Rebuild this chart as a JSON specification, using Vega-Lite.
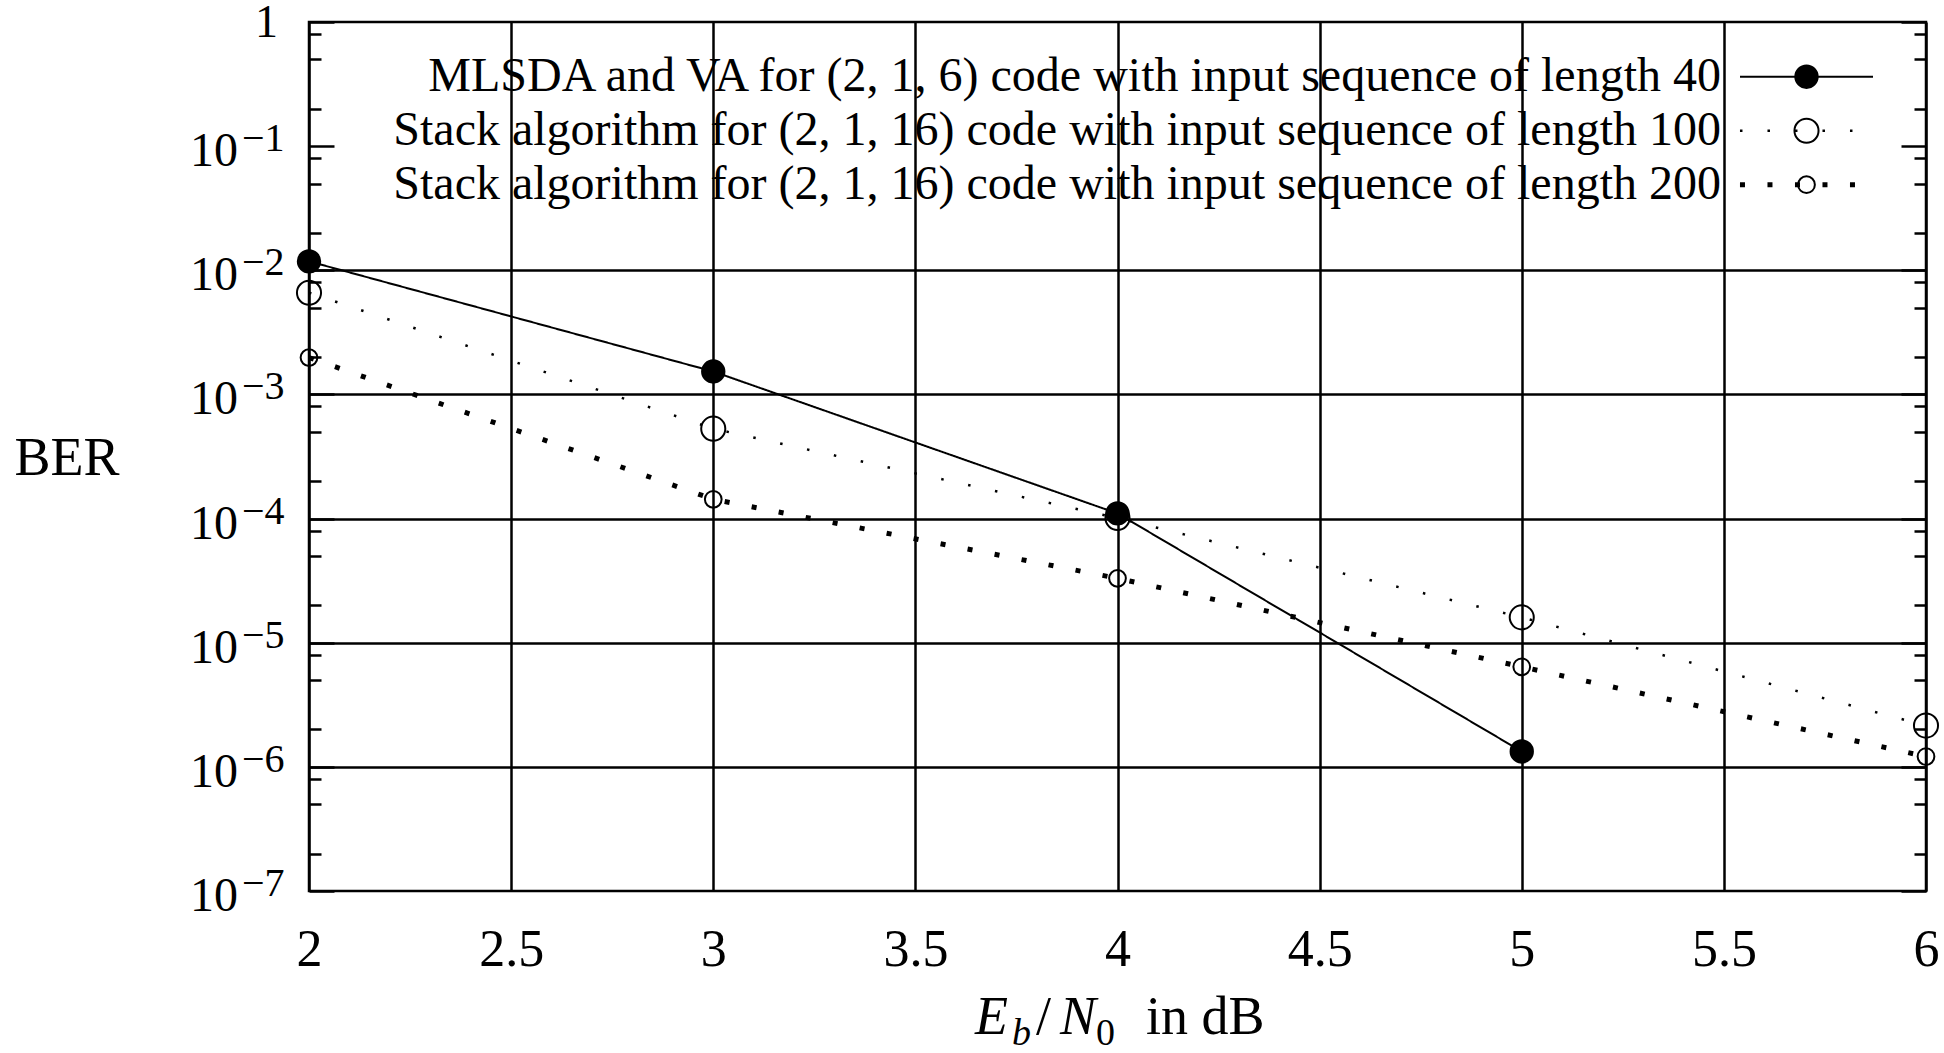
{
  "$schema": "https://vega.github.io/schema/vega-lite/v6.json",
  "autosize": {"type": "none"},
  "width": 1617,
  "height": 869,
  "padding": {"left": 309, "top": 22, "right": 18, "bottom": 162},
  "background": "white",
  "config": {
    "font": "Liberation Serif",
    "view": {"stroke": "black", "strokeWidth": 2.5}
  },
  "datasets": {
    "ber": [
      {"x": 2, "ber": 0.0118, "series": "MLSDA and VA for (2, 1, 6) code with input sequence of length 40", "key": "a"},
      {"x": 3, "ber": 0.00153, "series": "MLSDA and VA for (2, 1, 6) code with input sequence of length 40", "key": "a"},
      {"x": 4, "ber": 0.00011, "series": "MLSDA and VA for (2, 1, 6) code with input sequence of length 40", "key": "a"},
      {"x": 5, "ber": 0.00000133, "series": "MLSDA and VA for (2, 1, 6) code with input sequence of length 40", "key": "a"},
      {"x": 2, "ber": 0.0066, "series": "Stack algorithm for (2, 1, 16) code with input sequence of length 100", "key": "b"},
      {"x": 3, "ber": 0.00053, "series": "Stack algorithm for (2, 1, 16) code with input sequence of length 100", "key": "b"},
      {"x": 4, "ber": 0.000101, "series": "Stack algorithm for (2, 1, 16) code with input sequence of length 100", "key": "b"},
      {"x": 5, "ber": 0.000016, "series": "Stack algorithm for (2, 1, 16) code with input sequence of length 100", "key": "b"},
      {"x": 6, "ber": 0.00000215, "series": "Stack algorithm for (2, 1, 16) code with input sequence of length 100", "key": "b"},
      {"x": 2, "ber": 0.00198, "series": "Stack algorithm for (2, 1, 16) code with input sequence of length 200", "key": "c"},
      {"x": 3, "ber": 0.000143, "series": "Stack algorithm for (2, 1, 16) code with input sequence of length 200", "key": "c"},
      {"x": 4, "ber": 0.000033, "series": "Stack algorithm for (2, 1, 16) code with input sequence of length 200", "key": "c"},
      {"x": 5, "ber": 0.0000064, "series": "Stack algorithm for (2, 1, 16) code with input sequence of length 200", "key": "c"},
      {"x": 6, "ber": 0.00000121, "series": "Stack algorithm for (2, 1, 16) code with input sequence of length 200", "key": "c"}
    ],
    "ylab": [
      {"val": 1, "base": "1", "exp": ""},
      {"val": 0.1, "base": "10", "exp": "−1"},
      {"val": 0.01, "base": "10", "exp": "−2"},
      {"val": 0.001, "base": "10", "exp": "−3"},
      {"val": 0.0001, "base": "10", "exp": "−4"},
      {"val": 0.00001, "base": "10", "exp": "−5"},
      {"val": 0.000001, "base": "10", "exp": "−6"},
      {"val": 0.0000001, "base": "10", "exp": "−7"}
    ]
  },
  "resolve": {"axis": {"y": "independent"}},
  "layer": [
    {
      "data": {"name": "ber"},
      "mark": {"type": "line", "color": "black", "strokeCap": "butt"},
      "encoding": {
        "x": {
          "field": "x", "type": "quantitative",
          "scale": {"domain": [2, 6], "nice": false, "zero": false},
          "axis": {
            "orient": "bottom",
            "values": [2, 2.5, 3, 3.5, 4, 4.5, 5, 5.5, 6],
            "grid": true, "gridColor": "black", "gridWidth": 2.5, "gridOpacity": 1,
            "ticks": false, "tickSize": 0, "domain": false,
            "labelFont": "Liberation Serif", "labelFontSize": 52, "labelColor": "black",
            "labelPadding": 33, "labelFlush": false, "labelOverlap": false, "labelBound": false,
            "format": "~g", "title": null
          }
        },
        "y": {
          "field": "ber", "type": "quantitative",
          "scale": {"type": "log", "domain": [0.0000001, 1], "nice": false},
          "axis": {
            "orient": "left",
            "values": [1, 0.8, 0.5, 0.2, 0.1, 0.08, 0.05, 0.02, 0.01, 0.008, 0.005, 0.002, 0.001, 0.0008, 0.0005, 0.0002, 0.0001, 0.00008, 0.00005, 0.00002, 0.00001, 0.000008, 0.000005, 0.000002, 0.000001, 0.0000008, 0.0000005, 0.0000002, 0.0000001],
            "grid": true, "gridColor": "black", "gridWidth": 2.5,
            "gridOpacity": {"condition": {"test": "datum.value > 0.0000009 && datum.value < 0.011 && abs(log(datum.value)/LN10 - round(log(datum.value)/LN10)) < 0.001", "value": 1}, "value": 0},
            "ticks": true, "tickColor": "black", "tickWidth": 2.5,
            "tickSize": {"condition": {"test": "abs(log(datum.value)/LN10 - round(log(datum.value)/LN10)) < 0.001", "value": -25}, "value": -12},
            "labels": false, "domain": false,
            "title": "BER", "titleAngle": 0, "titleX": -242.5, "titleY": 452,
            "titleAlign": "center", "titleBaseline": "alphabetic",
            "titleFont": "Liberation Serif", "titleFontSize": 54, "titleFontWeight": "normal", "titleColor": "black"
          }
        },
        "strokeDash": {
          "field": "series", "type": "nominal",
          "scale": {"range": [[1, 0], [2.5, 25], [5, 22.5]]},
          "legend": {
            "orient": "none", "legendX": 1473.5, "legendY": 30.7, "title": null, "padding": 0,
            "symbolType": "M-5,0H5", "symbolSize": 708, "symbolStrokeColor": "black",
            "labelFont": "Liberation Serif", "labelFontSize": 48, "labelColor": "black",
            "labelAlign": "right", "labelOffset": -109.5, "labelLimit": 0, "rowPadding": 6
          }
        },
        "strokeWidth": {
          "field": "series", "type": "nominal",
          "scale": {"type": "ordinal", "range": [2, 2.5, 5]},
          "legend": {
            "orient": "none", "legendX": 1473.5, "legendY": 30.7, "title": null, "padding": 0,
            "symbolType": "M-5,0H5", "symbolSize": 708, "symbolStrokeColor": "black",
            "labelFont": "Liberation Serif", "labelFontSize": 48, "labelColor": "black",
            "labelAlign": "right", "labelOffset": -109.5, "labelLimit": 0, "rowPadding": 6
          }
        }
      }
    },
    {
      "data": {"name": "ber"},
      "mark": {"type": "point", "shape": "circle", "filled": true, "strokeWidth": 2, "opacity": 1},
      "encoding": {
        "x": {"field": "x", "type": "quantitative", "scale": {"domain": [2, 6], "nice": false, "zero": false}},
        "y": {
          "field": "ber", "type": "quantitative",
          "scale": {"type": "log", "domain": [0.0000001, 1], "nice": false},
          "axis": {
            "orient": "right",
            "values": [1, 0.8, 0.5, 0.2, 0.1, 0.08, 0.05, 0.02, 0.01, 0.008, 0.005, 0.002, 0.001, 0.0008, 0.0005, 0.0002, 0.0001, 0.00008, 0.00005, 0.00002, 0.00001, 0.000008, 0.000005, 0.000002, 0.000001, 0.0000008, 0.0000005, 0.0000002, 0.0000001],
            "grid": false,
            "ticks": true, "tickColor": "black", "tickWidth": 2.5,
            "tickSize": {"condition": {"test": "abs(log(datum.value)/LN10 - round(log(datum.value)/LN10)) < 0.001", "value": -25}, "value": -12},
            "labels": false, "domain": false, "title": null
          }
        },
        "fill": {
          "field": "key", "type": "nominal",
          "scale": {"range": ["black", "transparent", "transparent"]},
          "legend": {
            "orient": "none", "legendX": 1473.5, "legendY": 30.7, "title": null, "padding": 0,
            "symbolType": "circle", "symbolStrokeWidth": 2,
            "labelFontSize": 48, "labelOpacity": 0, "rowPadding": 6
          }
        },
        "stroke": {
          "field": "key", "type": "nominal",
          "scale": {"range": ["black", "black", "black"]},
          "legend": {
            "orient": "none", "legendX": 1473.5, "legendY": 30.7, "title": null, "padding": 0,
            "symbolType": "circle", "symbolStrokeWidth": 2,
            "labelFontSize": 48, "labelOpacity": 0, "rowPadding": 6
          }
        },
        "size": {
          "field": "key", "type": "nominal",
          "scale": {"type": "ordinal", "range": [500, 580, 280]},
          "legend": {
            "orient": "none", "legendX": 1473.5, "legendY": 30.7, "title": null, "padding": 0,
            "symbolType": "circle", "symbolStrokeWidth": 2,
            "labelFontSize": 48, "labelOpacity": 0, "rowPadding": 6
          }
        }
      }
    },
    {
      "data": {"name": "ylab"},
      "transform": [{"filter": "datum.val < 0.5"}],
      "mark": {"type": "text", "align": "right", "baseline": "alphabetic", "dx": -71, "dy": 20, "fontSize": 48, "font": "Liberation Serif", "color": "black"},
      "encoding": {
        "x": {"datum": 2, "type": "quantitative", "scale": {"domain": [2, 6], "nice": false, "zero": false}},
        "y": {"field": "val", "type": "quantitative", "scale": {"type": "log", "domain": [0.0000001, 1], "nice": false}, "axis": null},
        "text": {"field": "base"}
      }
    },
    {
      "data": {"name": "ylab"},
      "transform": [{"filter": "datum.val < 0.5"}],
      "mark": {"type": "text", "align": "left", "baseline": "alphabetic", "dx": -67, "dy": 5, "fontSize": 40, "font": "Liberation Serif", "color": "black"},
      "encoding": {
        "x": {"datum": 2, "type": "quantitative", "scale": {"domain": [2, 6], "nice": false, "zero": false}},
        "y": {"field": "val", "type": "quantitative", "scale": {"type": "log", "domain": [0.0000001, 1], "nice": false}, "axis": null},
        "text": {"field": "exp"}
      }
    },
    {
      "data": {"name": "ylab"},
      "transform": [{"filter": "datum.val > 0.5"}],
      "mark": {"type": "text", "align": "right", "baseline": "alphabetic", "dx": -31, "dy": 15, "fontSize": 46, "font": "Liberation Serif", "color": "black"},
      "encoding": {
        "x": {"datum": 2, "type": "quantitative", "scale": {"domain": [2, 6], "nice": false, "zero": false}},
        "y": {"field": "val", "type": "quantitative", "scale": {"type": "log", "domain": [0.0000001, 1], "nice": false}, "axis": null},
        "text": {"field": "base"}
      }
    },
    {
      "data": {"values": [{}]},
      "mark": {"type": "text", "text": "E", "fontStyle": "italic", "fontSize": 54, "font": "Liberation Serif", "align": "left", "baseline": "alphabetic", "dx": -142.5, "dy": 143, "color": "black"},
      "encoding": {
        "x": {"datum": 4, "type": "quantitative", "scale": {"domain": [2, 6], "nice": false, "zero": false}},
        "y": {"datum": 0.0000001, "type": "quantitative", "scale": {"type": "log", "domain": [0.0000001, 1], "nice": false}, "axis": null}
      }
    },
    {
      "data": {"values": [{}]},
      "mark": {"type": "text", "text": "b", "fontStyle": "italic", "fontSize": 38, "font": "Liberation Serif", "align": "left", "baseline": "alphabetic", "dx": -105.5, "dy": 154, "color": "black"},
      "encoding": {
        "x": {"datum": 4, "type": "quantitative", "scale": {"domain": [2, 6], "nice": false, "zero": false}},
        "y": {"datum": 0.0000001, "type": "quantitative", "scale": {"type": "log", "domain": [0.0000001, 1], "nice": false}, "axis": null}
      }
    },
    {
      "data": {"values": [{}]},
      "mark": {"type": "text", "text": "/", "fontSize": 54, "font": "Liberation Serif", "align": "left", "baseline": "alphabetic", "dx": -81.5, "dy": 143, "color": "black"},
      "encoding": {
        "x": {"datum": 4, "type": "quantitative", "scale": {"domain": [2, 6], "nice": false, "zero": false}},
        "y": {"datum": 0.0000001, "type": "quantitative", "scale": {"type": "log", "domain": [0.0000001, 1], "nice": false}, "axis": null}
      }
    },
    {
      "data": {"values": [{}]},
      "mark": {"type": "text", "text": "N", "fontStyle": "italic", "fontSize": 54, "font": "Liberation Serif", "align": "left", "baseline": "alphabetic", "dx": -57.5, "dy": 143, "color": "black"},
      "encoding": {
        "x": {"datum": 4, "type": "quantitative", "scale": {"domain": [2, 6], "nice": false, "zero": false}},
        "y": {"datum": 0.0000001, "type": "quantitative", "scale": {"type": "log", "domain": [0.0000001, 1], "nice": false}, "axis": null}
      }
    },
    {
      "data": {"values": [{}]},
      "mark": {"type": "text", "text": "0", "fontSize": 38, "font": "Liberation Serif", "align": "left", "baseline": "alphabetic", "dx": -21.5, "dy": 154, "color": "black"},
      "encoding": {
        "x": {"datum": 4, "type": "quantitative", "scale": {"domain": [2, 6], "nice": false, "zero": false}},
        "y": {"datum": 0.0000001, "type": "quantitative", "scale": {"type": "log", "domain": [0.0000001, 1], "nice": false}, "axis": null}
      }
    },
    {
      "data": {"values": [{}]},
      "mark": {"type": "text", "text": "in dB", "fontSize": 54, "font": "Liberation Serif", "align": "left", "baseline": "alphabetic", "dx": 28.5, "dy": 143, "color": "black"},
      "encoding": {
        "x": {"datum": 4, "type": "quantitative", "scale": {"domain": [2, 6], "nice": false, "zero": false}},
        "y": {"datum": 0.0000001, "type": "quantitative", "scale": {"type": "log", "domain": [0.0000001, 1], "nice": false}, "axis": null}
      }
    }
  ]
}
